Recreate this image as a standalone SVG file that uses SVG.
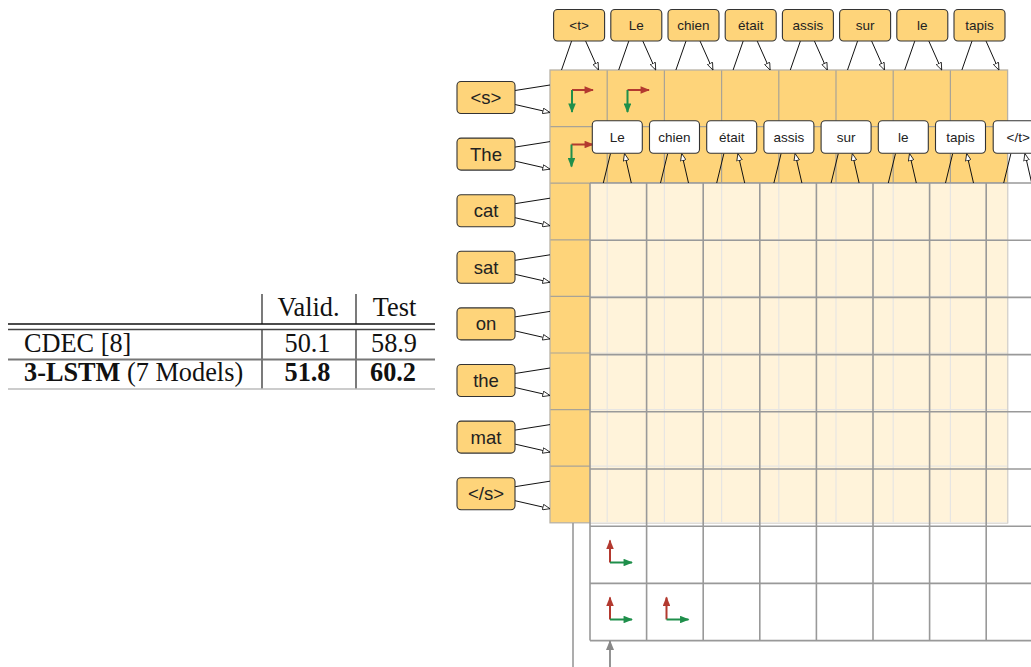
<svg xmlns="http://www.w3.org/2000/svg" width="1031" height="667" viewBox="0 0 1031 667">
<defs>
<style>
.tb{font-family:"Liberation Serif","Times New Roman",serif;font-size:26.3px;fill:#111}
.b{font-weight:bold}
.ob{fill:#fed47a;stroke:#333;stroke-width:1.1}
.wb{fill:#fff;stroke:#333;stroke-width:1.1}
.lbl{font-family:"Liberation Sans",Arial,sans-serif;font-size:13.5px;fill:#222;text-anchor:middle}
.lbl2{font-family:"Liberation Sans",Arial,sans-serif;font-size:18.5px;fill:#222;text-anchor:middle}
.og{stroke:#a9a396;stroke-width:1.2;fill:none}
.gg{stroke:#999;stroke-width:1.6;fill:none}
.con{stroke:#111;stroke-width:1;fill:none;marker-end:url(#oh)}
.red{stroke:#b3392f;stroke-width:2;fill:none;marker-end:url(#rh)}
.grn{stroke:#1f8f4b;stroke-width:2;fill:none;marker-end:url(#gh)}
</style>
<marker id="oh" viewBox="0 0 10 8" refX="9.5" refY="4" markerWidth="8" markerHeight="6.5" orient="auto" markerUnits="userSpaceOnUse">
<path d="M0.5,0.5 L9.5,4 L0.5,7.5 Z" fill="#fff" stroke="#111" stroke-width="1"/>
</marker>
<marker id="rh" viewBox="0 0 10 8" refX="9" refY="4" markerWidth="10" markerHeight="7.5" orient="auto" markerUnits="userSpaceOnUse">
<path d="M0,0 L10,4 L0,8 Z" fill="#b3392f"/>
</marker>
<marker id="gh" viewBox="0 0 10 8" refX="9" refY="4" markerWidth="10" markerHeight="7.5" orient="auto" markerUnits="userSpaceOnUse">
<path d="M0,0 L10,4 L0,8 Z" fill="#1f8f4b"/>
</marker>
<marker id="kh" viewBox="0 0 10 8" refX="9" refY="4" markerWidth="10" markerHeight="8" orient="auto" markerUnits="userSpaceOnUse">
<path d="M0,0 L10,4 L0,8 Z" fill="#888"/>
</marker>
</defs>
<rect width="1031" height="667" fill="#fff"/>

<!-- table -->
<g id="table">
<line x1="262" y1="294" x2="262" y2="324" stroke="#333" stroke-width="1.3"/>
<line x1="356" y1="294" x2="356" y2="324" stroke="#333" stroke-width="1.3"/>
<line x1="262" y1="329" x2="262" y2="389" stroke="#333" stroke-width="1.3"/>
<line x1="356" y1="329" x2="356" y2="389" stroke="#333" stroke-width="1.3"/>
<line x1="8" y1="324" x2="435" y2="324" stroke="#111" stroke-width="1.3"/>
<line x1="8" y1="329.5" x2="435" y2="329.5" stroke="#444" stroke-width="1.3"/>
<line x1="8" y1="359.5" x2="435" y2="359.5" stroke="#777" stroke-width="1.8"/>
<line x1="8" y1="389" x2="435" y2="389" stroke="#bbb" stroke-width="1.3"/>
<text class="tb" x="308.5" y="316" text-anchor="middle">Valid.</text>
<text class="tb" x="394.5" y="316" text-anchor="middle">Test</text>
<text class="tb" x="24" y="352">CDEC [8]</text>
<text class="tb" x="307.5" y="352" text-anchor="middle">50.1</text>
<text class="tb" x="394" y="352" text-anchor="middle">58.9</text>
<text class="tb" x="24" y="381"><tspan class="b">3-LSTM</tspan> (7 Models)</text>
<text class="tb b" x="307.5" y="381" text-anchor="middle">51.8</text>
<text class="tb b" x="393" y="381" text-anchor="middle">60.2</text>
</g>

<!-- orange grid -->
<g id="orange-grid">
<rect x="550" y="70" width="457.6" height="452.8" fill="#fed47a"/>
<path class="og" d="M607.2,70V522.8 M664.4,70V522.8 M721.6,70V522.8 M778.8,70V522.8 M836,70V522.8 M893.2,70V522.8 M950.4,70V522.8 M550,126.6H1007.6 M550,183.2H1007.6 M550,239.8H1007.6 M550,296.4H1007.6 M550,353H1007.6 M550,409.6H1007.6 M550,466.2H1007.6"/>
<rect x="550" y="70" width="457.6" height="452.8" fill="none" stroke="#b8b2a6" stroke-width="1.3"/>
<rect x="590" y="183" width="417.6" height="340" fill="#fff" fill-opacity="0.72"/>
</g>

<!-- gray grid -->
<g id="gray-grid">
<path class="gg" d="M590,183V640.6 M646.6,183V640.6 M703.2,183V640.6 M759.8,183V640.6 M816.4,183V640.6 M873,183V640.6 M929.6,183V640.6 M986.2,183V640.6 M590,183H1031 M590,240.2H1031 M590,297.4H1031 M590,354.6H1031 M590,411.8H1031 M590,469H1031 M590,526.2H1031 M590,583.4H1031 M590,640.6H1031"/>
<line x1="573" y1="523" x2="573" y2="667" stroke="#999" stroke-width="1.6"/>
<line x1="610" y1="667" x2="610" y2="641" stroke="#888" stroke-width="1.8" marker-end="url(#kh)"/>
</g>

<!-- direction glyphs -->
<g id="glyphs">
<path class="red" d="M572,90H593"/><path class="grn" d="M572,90V112"/>
<path class="red" d="M627.5,90H649"/><path class="grn" d="M627.5,90V112"/>
<path class="red" d="M571.5,144.5H593"/><path class="grn" d="M571.5,144.5V166.5"/>
<path class="red" d="M610,562.5V540.5"/><path class="grn" d="M610,562.5H632"/>
<path class="red" d="M610,619.5V597.5"/><path class="grn" d="M610,619.5H632"/>
<path class="red" d="M666.5,619.5V597.5"/><path class="grn" d="M666.5,619.5H688.5"/>
</g>

<!-- connectors -->
<g id="connectors">
<path class="con" d="M571.6,41L561.5,70 M585.6,41L598.5,70"/>
<path class="con" d="M628.8,41L618.7,70 M642.8,41L655.7,70"/>
<path class="con" d="M686,41L675.9,70 M700,41L712.9,70"/>
<path class="con" d="M743.2,41L733.1,70 M757.2,41L770.1,70"/>
<path class="con" d="M800.4,41L790.3,70 M814.4,41L827.3,70"/>
<path class="con" d="M857.6,41L847.5,70 M871.6,41L884.5,70"/>
<path class="con" d="M914.8,41L904.7,70 M928.8,41L941.7,70"/>
<path class="con" d="M972,41L961.9,70 M986,41L998.9,70"/>

<path class="con" d="M603.3,183L610.5,153.5 M631.3,183L624.5,153.5"/>
<path class="con" d="M660.5,183L667.7,153.5 M688.5,183L681.7,153.5"/>
<path class="con" d="M716.7,183L723.9,153.5 M744.7,183L737.9,153.5"/>
<path class="con" d="M773.9,183L781.1,153.5 M801.9,183L795.1,153.5"/>
<path class="con" d="M831.1,183L838.3,153.5 M859.1,183L852.3,153.5"/>
<path class="con" d="M888.3,183L895.5,153.5 M916.3,183L909.5,153.5"/>
<path class="con" d="M945.5,183L952.7,153.5 M973.5,183L966.7,153.5"/>
<path class="con" d="M1003.7,183L1010.9,153.5 M1031.7,183L1024.9,153.5"/>

<path class="con" d="M515,90.5L550,85 M515,104.5L550,112.5"/>
<path class="con" d="M515,147.1L550,141.6 M515,161.1L550,169.1"/>
<path class="con" d="M515,203.7L550,198.2 M515,217.7L550,225.7"/>
<path class="con" d="M515,260.3L550,254.8 M515,274.3L550,282.3"/>
<path class="con" d="M515,316.9L550,311.4 M515,330.9L550,338.9"/>
<path class="con" d="M515,373.5L550,368 M515,387.5L550,395.5"/>
<path class="con" d="M515,430.1L550,424.6 M515,444.1L550,452.1"/>
<path class="con" d="M515,486.7L550,481.2 M515,500.7L550,508.7"/>
</g>

<!-- top target words -->
<g id="t0"><rect class="ob" x="553.6" y="9.5" width="51" height="31.5" rx="4"/><text class="lbl" x="579.1" y="30">&lt;t&gt;</text></g>
<g id="t1"><rect class="ob" x="610.8" y="9.5" width="51" height="31.5" rx="4"/><text class="lbl" x="636.3" y="30">Le</text></g>
<g id="t2"><rect class="ob" x="668" y="9.5" width="51" height="31.5" rx="4"/><text class="lbl" x="693.5" y="30">chien</text></g>
<g id="t3"><rect class="ob" x="725.2" y="9.5" width="51" height="31.5" rx="4"/><text class="lbl" x="750.7" y="30">était</text></g>
<g id="t4"><rect class="ob" x="782.4" y="9.5" width="51" height="31.5" rx="4"/><text class="lbl" x="807.9" y="30">assis</text></g>
<g id="t5"><rect class="ob" x="839.6" y="9.5" width="51" height="31.5" rx="4"/><text class="lbl" x="865.1" y="30">sur</text></g>
<g id="t6"><rect class="ob" x="896.8" y="9.5" width="51" height="31.5" rx="4"/><text class="lbl" x="922.3" y="30">le</text></g>
<g id="t7"><rect class="ob" x="954" y="9.5" width="51" height="31.5" rx="4"/><text class="lbl" x="979.5" y="30">tapis</text></g>

<!-- output words -->
<g id="o0"><rect class="wb" x="592.3" y="120.7" width="50" height="32.6" rx="4"/><text class="lbl" x="617.3" y="142">Le</text></g>
<g id="o1"><rect class="wb" x="649.5" y="120.7" width="50" height="32.6" rx="4"/><text class="lbl" x="674.5" y="142">chien</text></g>
<g id="o2"><rect class="wb" x="706.7" y="120.7" width="50" height="32.6" rx="4"/><text class="lbl" x="731.7" y="142">était</text></g>
<g id="o3"><rect class="wb" x="763.9" y="120.7" width="50" height="32.6" rx="4"/><text class="lbl" x="788.9" y="142">assis</text></g>
<g id="o4"><rect class="wb" x="821.1" y="120.7" width="50" height="32.6" rx="4"/><text class="lbl" x="846.1" y="142">sur</text></g>
<g id="o5"><rect class="wb" x="878.3" y="120.7" width="50" height="32.6" rx="4"/><text class="lbl" x="903.3" y="142">le</text></g>
<g id="o6"><rect class="wb" x="935.5" y="120.7" width="50" height="32.6" rx="4"/><text class="lbl" x="960.5" y="142">tapis</text></g>
<g id="o7"><rect class="wb" x="993.2" y="120.7" width="50" height="32.6" rx="4"/><text class="lbl" x="1018.2" y="142">&lt;/t&gt;</text></g>

<!-- source words -->
<g id="s0"><rect class="ob" x="457" y="81.5" width="58" height="32" rx="4"/><text class="lbl2" x="486" y="104">&lt;s&gt;</text></g>
<g id="s1"><rect class="ob" x="457" y="138.1" width="58" height="32" rx="4"/><text class="lbl2" x="486" y="160.6">The</text></g>
<g id="s2"><rect class="ob" x="457" y="194.7" width="58" height="32" rx="4"/><text class="lbl2" x="486" y="217.2">cat</text></g>
<g id="s3"><rect class="ob" x="457" y="251.3" width="58" height="32" rx="4"/><text class="lbl2" x="486" y="273.8">sat</text></g>
<g id="s4"><rect class="ob" x="457" y="307.9" width="58" height="32" rx="4"/><text class="lbl2" x="486" y="330.4">on</text></g>
<g id="s5"><rect class="ob" x="457" y="364.5" width="58" height="32" rx="4"/><text class="lbl2" x="486" y="387">the</text></g>
<g id="s6"><rect class="ob" x="457" y="421.1" width="58" height="32" rx="4"/><text class="lbl2" x="486" y="443.6">mat</text></g>
<g id="s7"><rect class="ob" x="457" y="477.7" width="58" height="32" rx="4"/><text class="lbl2" x="486" y="500.2">&lt;/s&gt;</text></g>
</svg>
